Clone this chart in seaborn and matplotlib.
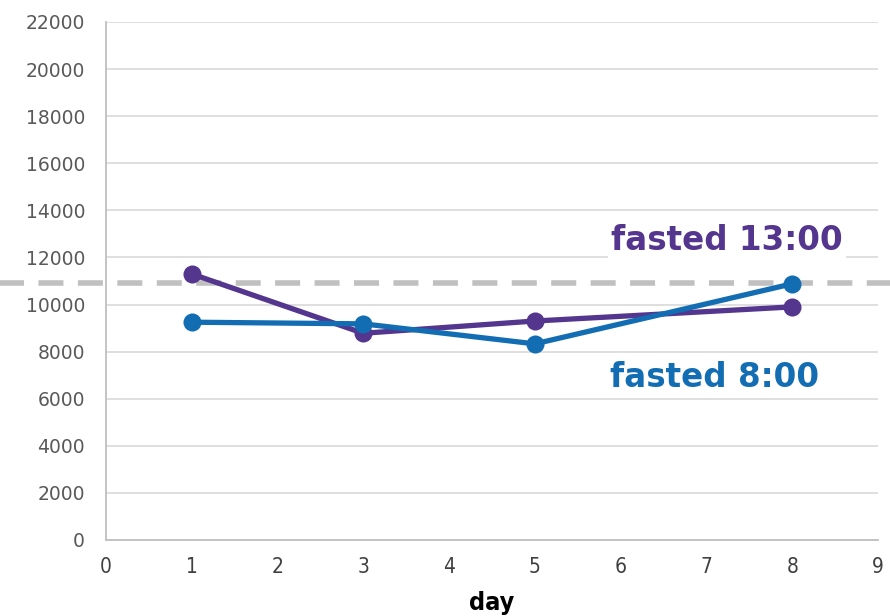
import pandas as pd
import numpy as np
import seaborn as sns
import matplotlib.pyplot as plt

# values
days = [1, 3, 5, 8]
fasted_13 = [11300, 8780, 9300, 9900]
fasted_8 = [9250, 9180, 8330, 10880]
threshold = 10900

purple = '#54368f'
blue = '#136db2'

df = pd.DataFrame({
    'day': days * 2,
    'value': fasted_13 + fasted_8,
    'group': ['fasted 13:00'] * 4 + ['fasted 8:00'] * 4,
})

sns.set_style('white')
plt.rcParams['font.family'] = ['DejaVu Sans']

fig = plt.figure(figsize=(8.9, 6.16), dpi=100)
ax = fig.add_axes([0.119, 0.1234, 0.8675, 0.8409])

sns.lineplot(data=df, x='day', y='value', hue='group',
             palette={'fasted 13:00': purple, 'fasted 8:00': blue},
             marker='o', markersize=13, markeredgewidth=0, linewidth=3.8,
             legend=False, ax=ax, zorder=3)

# dashed reference line runs past the axes on both sides
ax.axhline(threshold, xmin=-0.14, xmax=1.02, color='#c0c0c0', lw=4,
           dashes=(4.5, 2.6), clip_on=False, zorder=2)

ax.set_xlim(0, 9)
ax.set_ylim(0, 22000)
ax.set_xticks(range(0, 10))
ax.set_yticks(range(0, 22001, 2000))
ax.yaxis.grid(True, color='#d9d9d9', lw=1.2)
ax.set_axisbelow(True)

for s in ['top', 'right']:
    ax.spines[s].set_visible(False)
for s in ['left', 'bottom']:
    ax.spines[s].set_color('#bfbfbf')
    ax.spines[s].set_linewidth(1.3)

ax.tick_params(axis='both', length=0)
ax.tick_params(axis='y', labelsize=13.5, labelcolor='#595959', pad=15)
ax.tick_params(axis='x', pad=12)
for lbl in ax.get_xticklabels():
    lbl.set_fontstretch('condensed')
    lbl.set_fontsize(15)
    lbl.set_color('#404040')

ax.set_xlabel('day', fontsize=18, fontweight='bold', color='black',
              fontstretch='condensed', labelpad=10)
ax.set_ylabel('')

ax.text(7.24, 12700, 'fasted 13:00', color=purple, fontsize=23.5,
        fontweight='bold', ha='center', va='center',
        bbox=dict(facecolor='white', edgecolor='none', pad=2), zorder=4)
ax.text(7.1, 6920, 'fasted 8:00', color=blue, fontsize=23.5,
        fontweight='bold', ha='center', va='center',
        bbox=dict(facecolor='white', edgecolor='none', pad=2), zorder=4)

fig.savefig('out.png', dpi=100)
